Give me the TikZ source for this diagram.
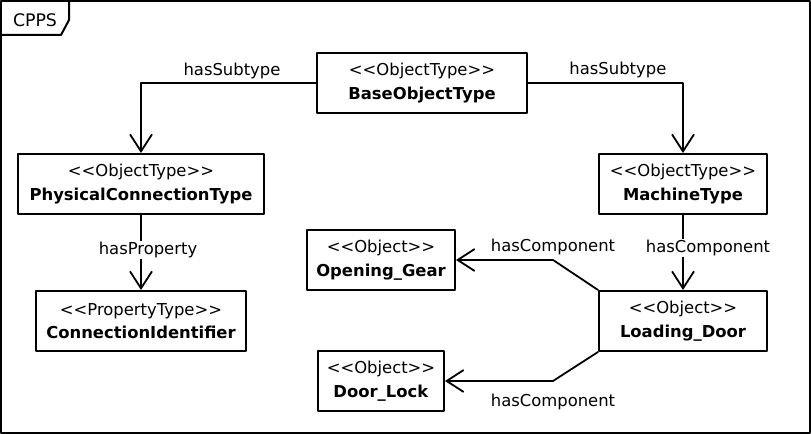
\documentclass[tikz,border=0pt]{standalone}
\usepackage{fontspec}
\setmainfont{DejaVu Sans}
\usetikzlibrary{arrows.meta,positioning}
\tikzset{
    every picture/.style={line cap=round,line join=round},
    objnode/.style={draw=black,line width=2bp,minimum height=60bp,
      inner xsep=8pt,inner ysep=2pt,align=center},
    linkarrow/.style={-{Straight Barb[length=17bp,width=22bp,line width=1.8bp]},
      draw=black,line width=1.8bp},
    linklabel/.style={fill=white,inner xsep=2pt,inner ysep=1pt}
}
\newcommand{\stereo}[1]{<{}<#1>{}>}

\begin{document}
\begin{tikzpicture}[x=1bp,y=-1bp,font=\fontsize{16.4bp}{23.5bp}\selectfont]
  \useasboundingbox (0,0) rectangle (811,434);
  % Frame with its name tab in the top left corner.
  \draw[line width=2bp] (1,1) rectangle (810,433);
  \draw[line width=2bp] (1,35) -- (61,35) -- (69,20) -- (69,1);
  \node[font=\fontsize{17.3bp}{20bp}\selectfont] (cpps) at (35,20.5) {CPPS};

  \node[objnode,minimum width=210bp] (base) at (422,83)
    {\stereo{ObjectType}\\\textbf{BaseObjectType}};
  \node[objnode,minimum width=246bp] (pct) at (141,184)
    {\stereo{ObjectType}\\\textbf{PhysicalConnectionType}};
  \node[objnode,minimum width=168bp] (machine) at (683,184)
    {\stereo{ObjectType}\\\textbf{MachineType}};
  \node[objnode,minimum width=210bp] (ident) at (141,321)
    {\stereo{PropertyType}\\\textbf{ConnectionIdentifier}};
  \node[objnode,minimum width=148bp] (gear) at (381,260)
    {\stereo{Object}\\\textbf{Opening\_Gear}};
  \node[objnode,minimum width=168bp] (door) at (683,321)
    {\stereo{Object}\\\textbf{Loading\_Door}};
  \node[objnode,minimum width=126bp] (lock) at (381,381)
    {\stereo{Object}\\\textbf{Door\_Lock}};

  \coordinate (gearbend) at (553,260);
  \coordinate (lockbend) at (553,381);

  \draw[linkarrow] (base) -| node[pos=0.24,above=0pt] {hasSubtype} (pct);
  \draw[linkarrow] (base) -| node[pos=0.29,above=1pt] {hasSubtype} (machine);
  \draw[linkarrow] (pct) -- node[linklabel,pos=0.47,xshift=7bp] {hasProperty} (ident);
  \draw[linkarrow] (machine) -- node[linklabel,pos=0.44,xshift=25bp] {hasComponent} (door);
  \draw[linkarrow] (door.north west) -- (gearbend)
    node[above=1pt] {hasComponent} -- (gear.east);
  \draw[linkarrow] (door.south west) -- (lockbend)
    node[below=9pt] {hasComponent} -- (lock.east);
\end{tikzpicture}
\end{document}
